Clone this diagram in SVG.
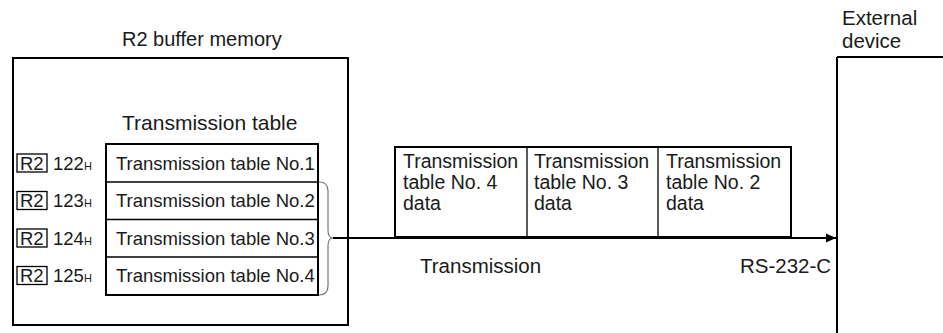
<svg xmlns="http://www.w3.org/2000/svg" width="943" height="333" viewBox="0 0 943 333">
<style>
text{font-family:"Liberation Sans",Arial,sans-serif;fill:#1a1a1a}
.title{font-size:20px}
.head{font-size:21px}
.row{font-size:18.5px}
.lbl{font-size:20.5px}
.cell{font-size:19.5px}
.sub{font-size:11px}
.box{fill:none;stroke:#000;stroke-width:2}
.thin{fill:none;stroke:#000;stroke-width:1.3}
.r2{fill:none;stroke:#000;stroke-width:1.3}
</style>
<defs>
<marker id="ah" markerWidth="10" markerHeight="10" refX="10" refY="5" orient="auto" markerUnits="userSpaceOnUse">
<path d="M0,0.5 L10,5 L0,9.5 Z" fill="#000"/>
</marker>
</defs>
<g id="buffer-memory">
<text class="title" x="122" y="46">R2 buffer memory</text>
<rect class="box" x="13" y="58" width="335" height="267"/>
<text class="head" x="122" y="130">Transmission table</text>
</g>
<g id="transmission-table">
<rect class="box" x="106" y="144" width="212" height="151"/>
<line class="thin" x1="106" y1="182" x2="318" y2="182"/>
<line class="thin" x1="106" y1="219.5" x2="318" y2="219.5"/>
<line class="thin" x1="106" y1="257" x2="318" y2="257"/>
<text class="row" x="116" y="169.5">Transmission table No.1</text>
<text class="row" x="116" y="207">Transmission table No.2</text>
<text class="row" x="116" y="244.5">Transmission table No.3</text>
<text class="row" x="116" y="282">Transmission table No.4</text>
</g>
<g id="addresses">
<rect class="r2" x="17" y="154" width="30" height="18"/>
<text class="row" x="20" y="169.5">R2</text>
<text class="row" x="53" y="169.5">122<tspan class="sub">H</tspan></text>
<rect class="r2" x="17" y="191.5" width="30" height="18"/>
<text class="row" x="20" y="207">R2</text>
<text class="row" x="53" y="207">123<tspan class="sub">H</tspan></text>
<rect class="r2" x="17" y="229" width="30" height="18"/>
<text class="row" x="20" y="244.5">R2</text>
<text class="row" x="53" y="244.5">124<tspan class="sub">H</tspan></text>
<rect class="r2" x="17" y="266.5" width="30" height="18"/>
<text class="row" x="20" y="282">R2</text>
<text class="row" x="53" y="282">125<tspan class="sub">H</tspan></text>
</g>
<g id="data-frame">
<rect class="box" x="395" y="147" width="396" height="90"/>
<line class="thin" x1="527" y1="147" x2="527" y2="237"/>
<line class="thin" x1="658" y1="147" x2="658" y2="237"/>
<text class="cell"><tspan x="403" y="168">Transmission</tspan><tspan x="403" y="189">table No. 4</tspan><tspan x="403" y="210">data</tspan></text>
<text class="cell"><tspan x="534" y="168">Transmission</tspan><tspan x="534" y="189">table No. 3</tspan><tspan x="534" y="210">data</tspan></text>
<text class="cell"><tspan x="666" y="168">Transmission</tspan><tspan x="666" y="189">table No. 2</tspan><tspan x="666" y="210">data</tspan></text>
</g>
<g id="external-device">
<text class="lbl"><tspan x="842" y="25">External</tspan><tspan x="842" y="48">device</tspan></text>
<line class="box" x1="837" y1="57" x2="943" y2="57"/>
<line class="box" x1="837" y1="57" x2="837" y2="333"/>
</g>
<g id="connectors">
<path d="M319,182 Q328,182 328,191 L328,230 Q328,238 333,238 Q328,238 328,246 L328,286 Q328,295 319,295" fill="none" stroke="#777" stroke-width="1.2"/>
<line x1="333" y1="238" x2="836" y2="238" stroke="#000" stroke-width="2" marker-end="url(#ah)"/>
<text class="lbl" x="420" y="273">Transmission</text>
<text class="lbl" x="740" y="273">RS-232-C</text>
</g>
</svg>
